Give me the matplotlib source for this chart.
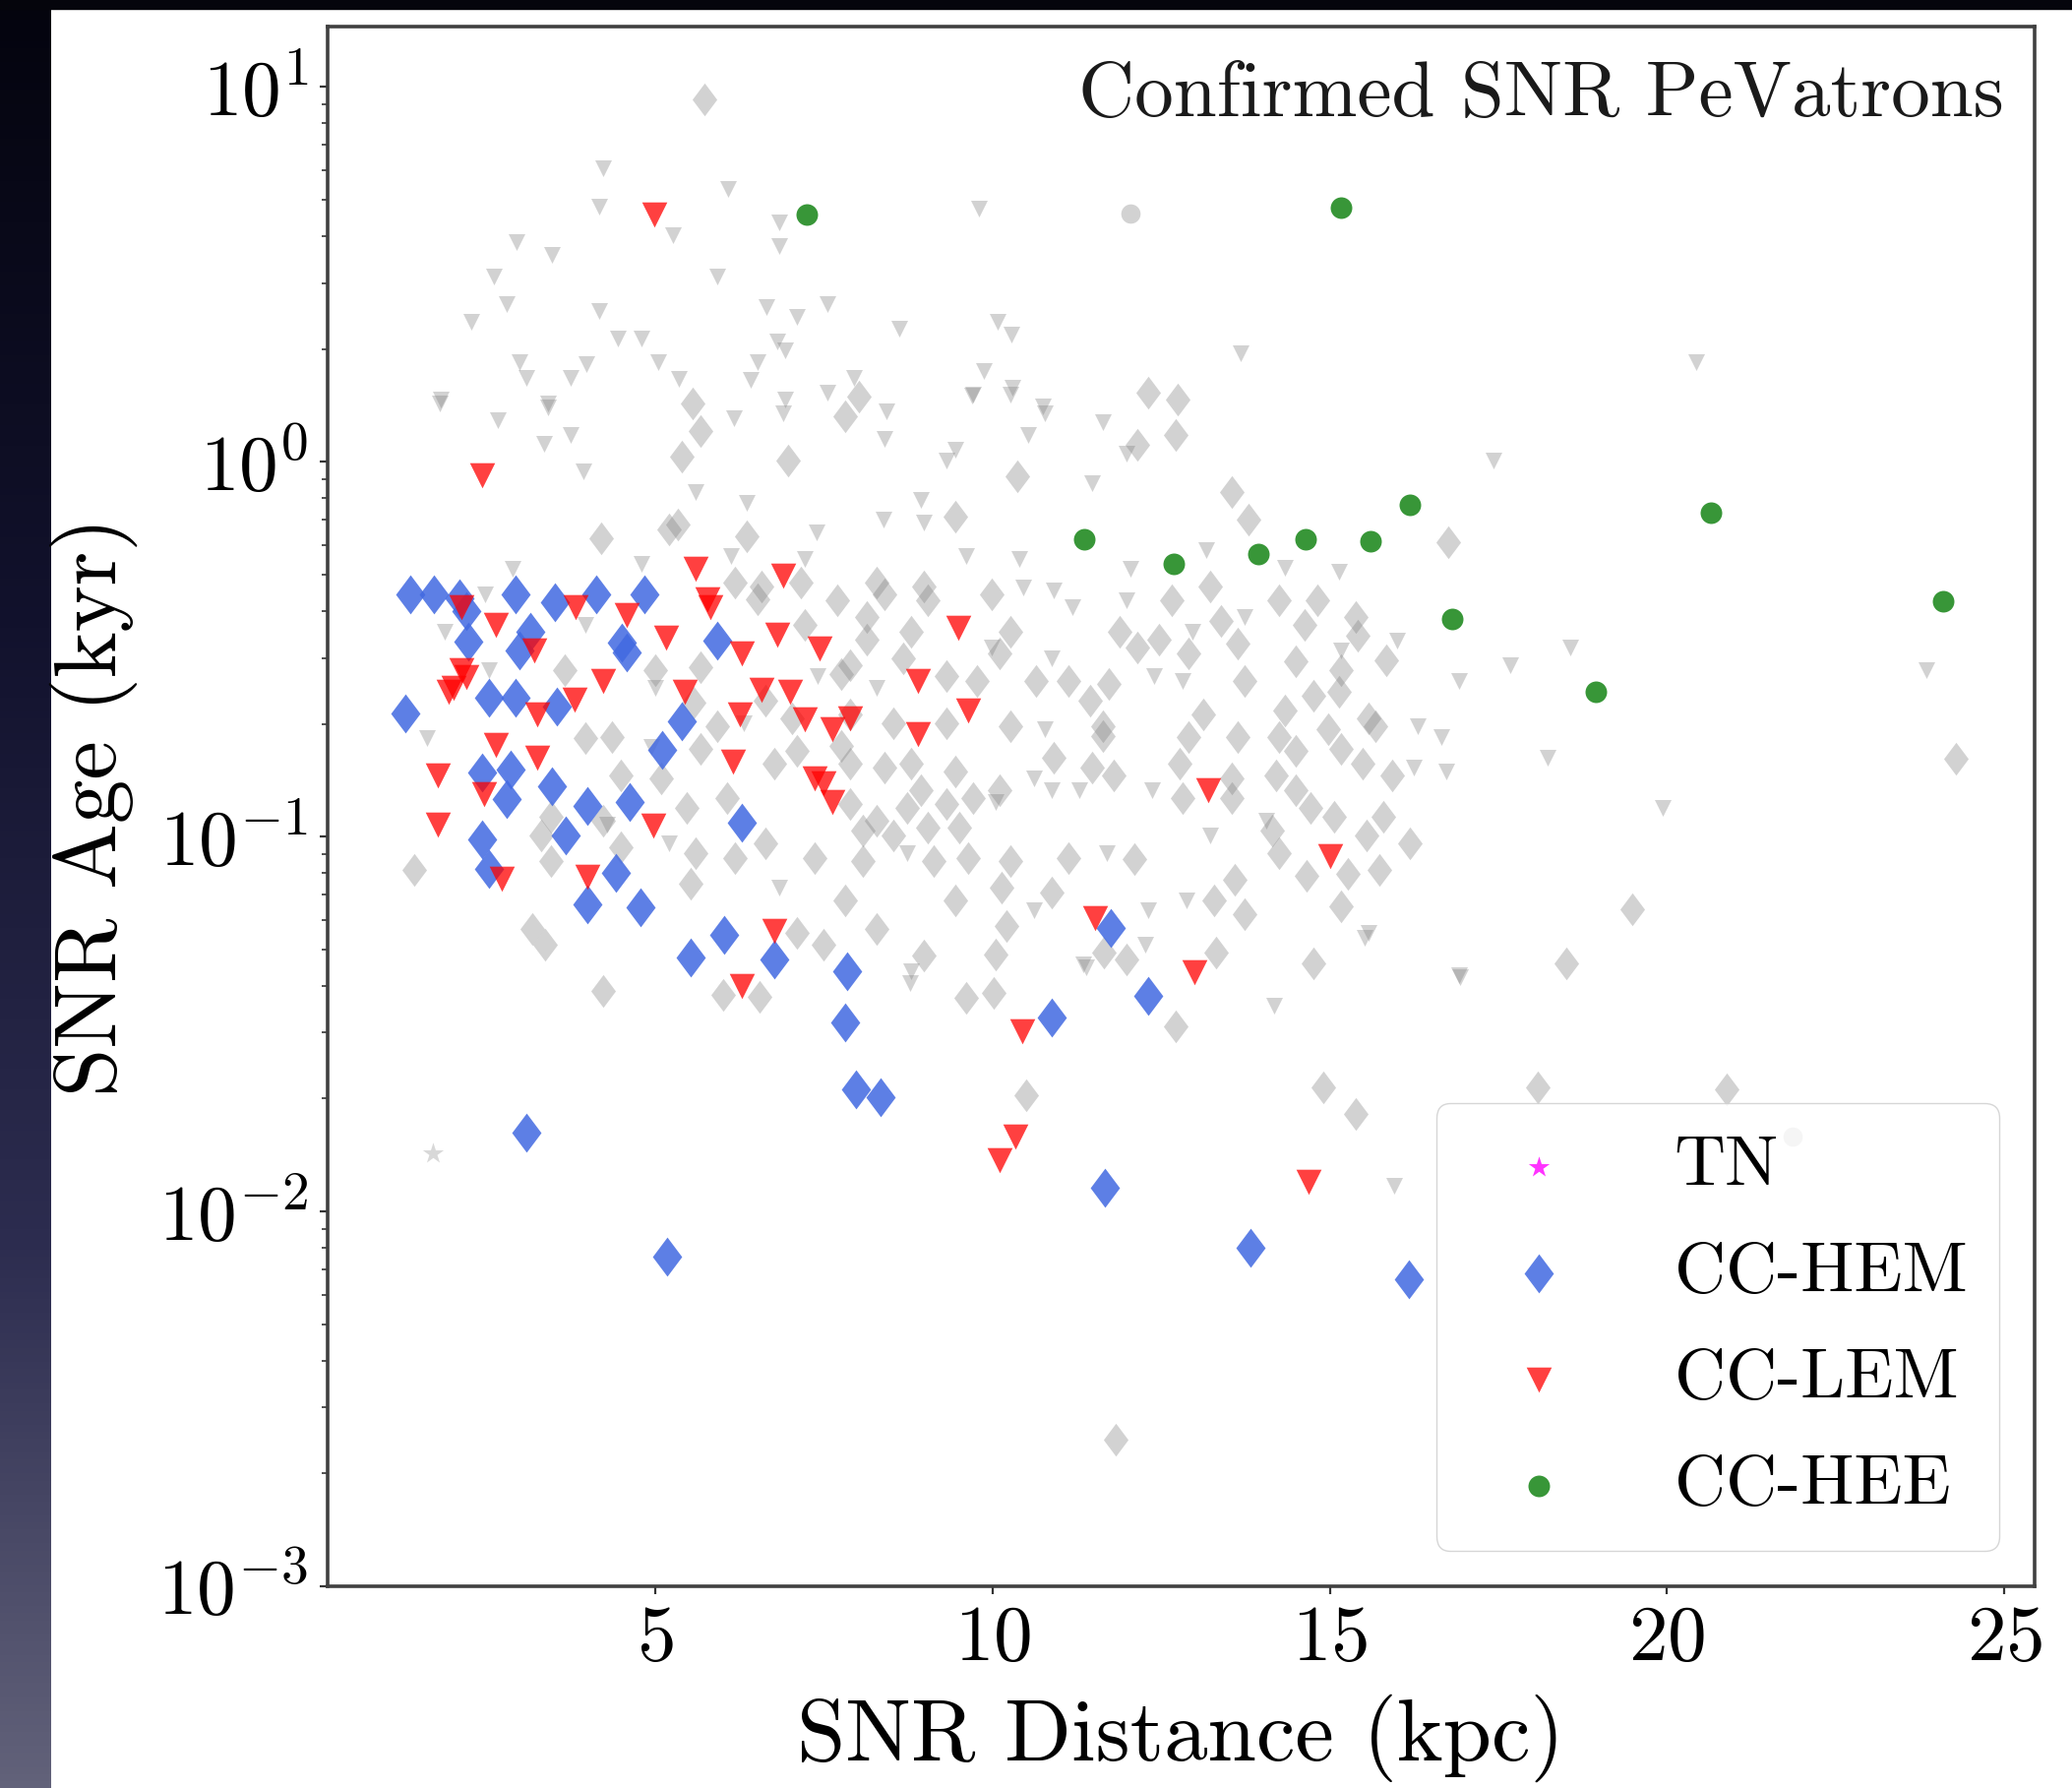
import numpy as np
import matplotlib
matplotlib.use('Agg')
import matplotlib.pyplot as plt
from matplotlib.patches import Rectangle
from matplotlib.path import Path

# Computer Modern look
plt.rcParams['font.family'] = 'serif'
plt.rcParams['font.serif'] = ['cmr10']
plt.rcParams['mathtext.fontset'] = 'cm'
plt.rcParams['axes.formatter.use_mathtext'] = True

# Background SNR population (grey), distance in kpc / age in kyr
bg_tri_dist = [4.23, 4.16, 5.26, 6.08, 6.84, 6.83, 9.79, 2.94, 3.47, 5.92,
               2.61, 2.80, 2.27, 4.16, 4.45, 4.80, 6.65, 7.10, 7.55, 8.61,
               10.08, 10.28, 2.98, 3.08, 3.74, 3.98, 5.04, 5.35, 6.51, 6.81,
               6.92, 6.41, 7.94, 9.87, 10.30, 1.82, 3.41, 6.92, 7.55, 9.69,
               10.75, 13.68, 20.43, 1.80, 2.66, 3.41, 3.35, 3.74, 6.16, 6.90,
               8.43, 8.40, 9.71, 9.32, 9.44, 3.94, 5.59, 6.35, 8.94, 8.38,
               8.98, 7.39, 6.12, 7.22, 9.61, 2.88, 4.80, 2.47, 3.96, 1.88,
               2.53, 7.41, 8.28, 5.00, 6.31, 1.62, 4.94, 4.29, 5.20, 8.73,
               6.83, 8.79, 10.26, 10.77, 11.63, 10.52, 11.99, 11.48, 17.42, 10.40,
               12.05, 13.16, 15.13, 14.34, 10.91, 10.46, 11.18, 11.99, 13.73, 15.99,
               15.17, 9.99, 12.97, 10.87, 12.40, 12.81, 10.77, 16.31, 16.66, 18.23,
               16.25, 16.72, 10.61, 10.87, 11.28, 12.36, 10.04, 14.05, 19.94, 13.22,
               11.69, 10.61, 12.87, 12.30, 15.58, 16.91, 11.38, 23.84, 18.56, 17.68,
               16.91, 8.77, 11.34, 12.26, 14.17, 15.52, 16.93, 15.95]
bg_tri_age = [6.08, 4.80, 4.02, 5.34, 4.36, 3.76, 4.73, 3.86, 3.56, 3.12,
              3.12, 2.63, 2.37, 2.53, 2.13, 2.13, 2.59, 2.43, 2.63, 2.27,
              2.37, 2.18, 1.85, 1.68, 1.68, 1.82, 1.85, 1.67, 1.85, 2.10,
              1.98, 1.66, 1.68, 1.75, 1.58, 1.47, 1.43, 1.47, 1.53, 1.50,
              1.41, 1.95, 1.84, 1.43, 1.29, 1.40, 1.12, 1.18, 1.31, 1.35,
              1.36, 1.15, 1.51, 1.01, 1.08, 0.944, 0.830, 0.778, 0.790, 0.700,
              0.688, 0.650, 0.561, 0.552, 0.561, 0.518, 0.535, 0.443, 0.368, 0.353,
              0.279, 0.268, 0.249, 0.249, 0.201, 0.183, 0.174, 0.108, 0.0962, 0.0901,
              0.0730, 0.0437, 1.51, 1.35, 1.28, 1.18, 1.05, 0.878, 1.01, 0.552,
              0.518, 0.580, 0.509, 0.521, 0.454, 0.462, 0.409, 0.426, 0.386, 0.333,
              0.313, 0.320, 0.353, 0.300, 0.268, 0.261, 0.194, 0.197, 0.184, 0.162,
              0.153, 0.149, 0.143, 0.133, 0.133, 0.133, 0.124, 0.110, 0.119, 0.101,
              0.0901, 0.0635, 0.0678, 0.0635, 0.0553, 0.0427, 0.0448, 0.279, 0.320, 0.286,
              0.261, 0.0406, 0.0455, 0.0514, 0.0354, 0.0536, 0.0423, 0.0117]

bg_dia_dist = [5.73, 5.55, 8.02, 12.30, 12.75, 5.67, 5.39, 6.96, 7.81, 4.20,
               5.20, 5.33, 6.35, 9.44, 6.18, 6.57, 7.16, 8.28, 8.98, 9.04,
               8.40, 7.69, 6.51, 7.22, 8.14, 8.14, 8.79, 8.67, 7.89, 7.75,
               9.32, 9.77, 10.10, 5.00, 5.67, 3.65, 5.57, 6.63, 5.92, 7.02,
               7.89, 8.53, 9.32, 3.96, 4.35, 5.67, 6.77, 7.10, 7.89, 8.40,
               7.75, 8.79, 9.44, 8.93, 9.32, 9.71, 8.73, 10.10, 8.28, 7.89,
               8.08, 8.53, 9.04, 9.51, 4.49, 5.08, 6.06, 5.47, 3.45, 3.31,
               4.23, 4.49, 5.59, 6.18, 6.63, 7.36, 8.08, 9.12, 9.63, 3.45,
               1.43, 5.53, 7.81, 9.44, 3.17, 3.37, 7.10, 7.49, 8.28, 8.98,
               12.71, 12.14, 10.36, 13.54, 13.79, 16.76, 9.99, 12.65, 13.22, 13.38,
               14.24, 14.81, 14.62, 15.38, 10.26, 11.89, 12.46, 13.64, 12.14, 15.42,
               15.83, 12.91, 14.50, 15.17, 10.65, 11.12, 13.73, 11.73, 11.44, 15.13,
               14.75, 13.13, 14.34, 15.58, 10.26, 11.63, 11.63, 12.91, 13.64, 14.24,
               14.97, 15.68, 14.50, 15.17, 10.91, 12.77, 15.48, 24.29, 11.79, 11.48,
               14.21, 15.93, 13.54, 12.81, 14.50, 13.54, 14.71, 15.07, 15.79, 15.54,
               16.19, 14.15, 10.26, 11.12, 12.10, 14.24, 14.66, 15.27, 15.74, 10.14,
               10.87, 13.28, 13.59, 13.73, 15.17, 19.48, 10.20, 11.99, 13.32, 14.75,
               18.50, 10.04, 4.23, 6.00, 6.55, 9.61, 10.02, 12.71, 10.50, 11.83,
               11.65, 14.91, 15.38, 18.09, 20.88]
bg_dia_age = [9.28, 1.43, 1.49, 1.53, 1.47, 1.21, 1.03, 1.01, 1.32, 0.624,
              0.661, 0.682, 0.634, 0.716, 0.477, 0.466, 0.477, 0.477, 0.466, 0.426,
              0.443, 0.426, 0.429, 0.368, 0.386, 0.336, 0.353, 0.300, 0.286, 0.272,
              0.268, 0.261, 0.308, 0.279, 0.284, 0.279, 0.228, 0.231, 0.197, 0.207,
              0.212, 0.201, 0.201, 0.183, 0.184, 0.171, 0.157, 0.169, 0.157, 0.153,
              0.175, 0.157, 0.149, 0.133, 0.122, 0.127, 0.119, 0.133, 0.110, 0.122,
              0.104, 0.101, 0.106, 0.106, 0.146, 0.143, 0.127, 0.119, 0.113, 0.101,
              0.110, 0.0938, 0.0901, 0.0879, 0.0962, 0.0879, 0.0859, 0.0859, 0.0879, 0.0859,
              0.0817, 0.0748, 0.0678, 0.0678, 0.0567, 0.0514, 0.0553, 0.0514, 0.0567, 0.0482,
              1.18, 1.11, 0.914, 0.830, 0.700, 0.609, 0.443, 0.426, 0.466, 0.377,
              0.426, 0.426, 0.368, 0.386, 0.353, 0.353, 0.336, 0.328, 0.320, 0.344,
              0.295, 0.308, 0.293, 0.279, 0.261, 0.261, 0.261, 0.255, 0.230, 0.243,
              0.237, 0.212, 0.217, 0.207, 0.197, 0.197, 0.186, 0.184, 0.184, 0.184,
              0.194, 0.197, 0.169, 0.171, 0.162, 0.157, 0.157, 0.161, 0.146, 0.153,
              0.146, 0.146, 0.143, 0.127, 0.133, 0.127, 0.119, 0.113, 0.113, 0.101,
              0.0962, 0.104, 0.0859, 0.0879, 0.0869, 0.0901, 0.0785, 0.0798, 0.0817, 0.0730,
              0.0711, 0.0678, 0.0766, 0.0620, 0.0650, 0.0640, 0.0577, 0.0470, 0.0490, 0.0459,
              0.0459, 0.0486, 0.0387, 0.0378, 0.0374, 0.0372, 0.0384, 0.0311, 0.0204, 0.00246,
              0.0490, 0.0214, 0.0182, 0.0214, 0.0212]

bg_dot_dist = [12.05, 21.86]
bg_dot_age = [4.61, 0.0158]
bg_star_dist = [1.70]
bg_star_age = [0.0143]

# Confirmed PeVatrons by class
tn_dist = []
tn_age = []

hem_dist = [1.29, 1.37, 1.72, 2.10, 2.20, 2.23, 2.53, 2.92, 2.92, 3.15,
            2.98, 3.51, 4.12, 4.50, 4.58, 4.84, 3.54, 5.10, 5.39, 5.92,
            2.43, 2.85, 2.79, 3.47, 3.99, 4.62, 6.28, 2.43, 2.53, 3.67,
            4.42, 3.99, 4.78, 6.02, 5.53, 6.77, 7.84, 7.81, 7.98, 8.34,
            3.08, 5.18, 10.87, 11.75, 12.30, 11.67, 13.83, 16.17]
hem_age = [0.213, 0.443, 0.443, 0.433, 0.40, 0.331, 0.235, 0.235, 0.443, 0.352,
           0.314, 0.423, 0.443, 0.33, 0.31, 0.443, 0.222, 0.170, 0.203, 0.333,
           0.148, 0.151, 0.126, 0.136, 0.121, 0.124, 0.109, 0.0986, 0.0819, 0.101,
           0.080, 0.0658, 0.0649, 0.0546, 0.0475, 0.0469, 0.0438, 0.032, 0.0212, 0.0202,
           0.0162, 0.0076, 0.033, 0.0571, 0.0377, 0.0116, 0.0080, 0.0066]

lem_dist = [4.98, 2.43, 2.13, 2.64, 3.21, 3.82, 4.57, 5.16, 5.59, 5.77,
            5.82, 6.28, 6.90, 6.80, 7.43, 9.49, 2.13, 2.20, 2.01, 1.94,
            2.63, 3.25, 3.80, 4.22, 5.43, 6.57, 7.00, 6.25, 7.22, 7.62,
            7.88, 8.89, 8.89, 9.64, 1.78, 2.46, 3.25, 6.15, 7.36, 7.49,
            7.62, 1.78, 4.97, 2.72, 3.99, 6.77, 6.28, 11.52, 13.20, 15.00,
            12.99, 10.44, 10.34, 10.10, 14.68]
lem_age = [4.57, 0.92, 0.41, 0.368, 0.314, 0.41, 0.39, 0.339, 0.52, 0.43,
           0.41, 0.308, 0.497, 0.345, 0.318, 0.36, 0.279, 0.267, 0.249, 0.243,
           0.176, 0.212, 0.232, 0.261, 0.243, 0.246, 0.243, 0.212, 0.205, 0.193,
           0.207, 0.261, 0.188, 0.217, 0.146, 0.130, 0.162, 0.159, 0.143, 0.139,
           0.124, 0.108, 0.107, 0.0773, 0.078, 0.0559, 0.040, 0.0605, 0.133, 0.0887,
           0.0434, 0.0303, 0.0158, 0.0137, 0.012]

hee_dist = [7.24, 15.17, 11.36, 12.69, 13.94, 14.64, 15.60, 16.18, 16.81, 18.94, 20.65, 24.09]
hee_age = [4.57, 4.76, 0.622, 0.535, 0.567, 0.622, 0.615, 0.767, 0.382, 0.243, 0.732, 0.425]

# a diamond a little wider than matplotlib's thin 'd'
diamond = Path([(0, 1), (0.75, 0), (0, -1), (-0.75, 0), (0, 1)],
               [Path.MOVETO, Path.LINETO, Path.LINETO, Path.LINETO, Path.CLOSEPOLY])

W, H = 2106, 1817
fig = plt.figure(figsize=(W / 100, H / 100), dpi=100)

# slide edge: dark gradient strip on the left, black band on top
strip = fig.add_axes([0, 0, 52 / W, 1])
t = np.linspace(0, 1, 256)
stops = [0, 0.35, 0.7, 1]
grad = np.stack([np.interp(t, stops, [4, 18, 45, 98]),
                 np.interp(t, stops, [4, 18, 45, 98]),
                 np.interp(t, stops, [14, 45, 80, 122])], axis=1) / 255
strip.imshow(grad[:, None, :], aspect='auto', extent=[0, 1, 1, 0])
strip.axis('off')
fig.add_artist(Rectangle((0, 1 - 9 / H), 1, 9 / H, transform=fig.transFigure,
                         color='#05050c', zorder=5))

ax = fig.add_axes([333 / W, 1 - 1612 / H, (2068 - 333) / W, (1612 - 27) / H])

# background population
ax.scatter(bg_tri_dist, bg_tri_age, marker='v', s=150, color='gray', alpha=0.35, linewidths=0)
ax.scatter(bg_dia_dist, bg_dia_age, marker=diamond, s=580, color='gray', alpha=0.35, linewidths=0)
ax.scatter(bg_dot_dist, bg_dot_age, marker='o', s=200, color='gray', alpha=0.35, linewidths=0)
ax.scatter(bg_star_dist, bg_star_age, marker='*', s=260, color='gray', alpha=0.3, linewidths=0)

# confirmed classes
ax.scatter(tn_dist, tn_age, marker='*', s=260, color='magenta', alpha=0.8, linewidths=0, label='TN')
ax.scatter(hem_dist, hem_age, marker=diamond, s=820, color='royalblue', alpha=0.85, linewidths=0, label='CC-HEM')
ax.scatter(lem_dist, lem_age, marker='v', s=340, color='red', alpha=0.75, linewidths=0, label='CC-LEM')
ax.scatter(hee_dist, hee_age, marker='o', s=250, color='forestgreen', alpha=0.9, linewidths=0, label='CC-HEE')

ax.set_yscale('log')
ax.set_xlim(0.14, 25.45)
ax.set_ylim(1e-3, 14.5)
ax.set_xticks([5, 10, 15, 20, 25])

ax.set_xlabel('SNR Distance (kpc)', fontsize=64, labelpad=13)
ax.set_ylabel('SNR Age (kyr)', fontsize=64, labelpad=15)
ax.tick_params(which='major', labelsize=57, length=6, width=1.6, pad=8, color='#333333')
ax.tick_params(which='minor', length=4, width=1.2, color='#333333')
for s in ax.spines.values():
    s.set_linewidth(2.6)
    s.set_color('#404040')

ax.text(0.982, 0.978, 'Confirmed SNR PeVatrons', transform=ax.transAxes,
        ha='right', va='top', fontsize=57, color='#1a1a1a')

ax.legend(loc='lower right', fontsize=52, scatterpoints=1, labelspacing=0.6,
          borderpad=0.45, handletextpad=0.9)

fig.savefig('out.png', dpi=100)
